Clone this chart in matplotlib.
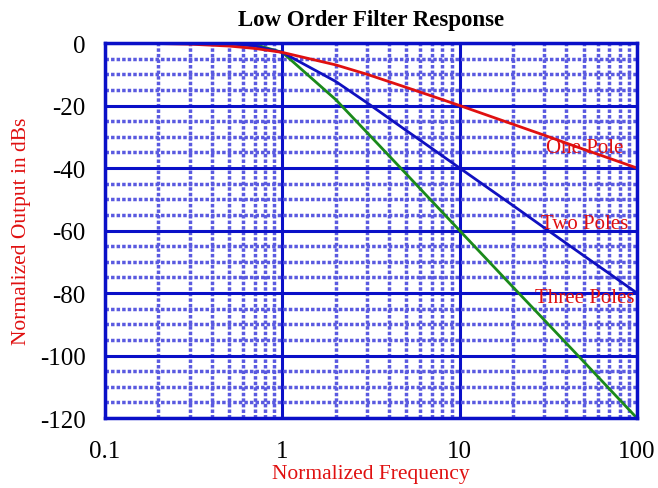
import matplotlib
matplotlib.use("Agg")
import matplotlib.pyplot as plt
from matplotlib.ticker import FixedLocator, NullFormatter

freq = [0.2, 0.3, 0.5, 0.7, 1, 2, 3, 5, 7, 10, 20, 30, 50, 70, 100]
one_pole = [-0.17, -0.37, -0.97, -1.74, -3.0, -7.0, -10.0, -14.2, -17.0, -20.0, -26.0, -29.5, -34.0, -36.9, -40.0]
two_poles = [-0.01, -0.03, -0.26, -0.97, -3.0, -12.3, -19.1, -28.0, -33.8, -40.0, -52.0, -59.1, -68.0, -73.8, -80.0]
three_poles = [0.0, 0.0, -0.07, -0.5, -3.0, -18.1, -28.6, -41.9, -50.7, -60.0, -78.1, -88.6, -101.9, -110.7, -120.0]

x_ticks = [0.1, 1, 10, 100]
x_labels = ["0.1", "1", "10", "100"]
y_ticks = [0, -20, -40, -60, -80, -100, -120]
y_labels = ["0", "-20", "-40", "-60", "-80", "-100", "-120"]

curve_labels = ["One Pole", "Two Poles", "Three Poles"]
label_pos_x = [51, 51, 51]
label_pos_y = [-33.3, -57.6, -81.3]

plt.rcParams['font.family'] = ['Liberation Serif', 'DejaVu Serif']

fig = plt.figure(figsize=(6.58, 4.89), dpi=100)
ax = fig.add_axes([0.1596, 0.143, 0.8084, 0.767])
ax.set_xscale('log')
ax.set_xlim(0.1, 100)
ax.set_ylim(-120, 0)

major_c = '#0a10c8'
minor_c = '#5a5ae0'
ax.xaxis.set_major_locator(FixedLocator(x_ticks))
ax.set_xticklabels(x_labels)
minx = [m * d for d in [0.1, 1, 10] for m in range(2, 10)]
ax.xaxis.set_minor_locator(FixedLocator(minx))
ax.xaxis.set_minor_formatter(NullFormatter())
ax.yaxis.set_major_locator(FixedLocator(y_ticks))
ax.set_yticklabels(y_labels)
miny = [v for v in range(-115, 0, 5) if v % 20 != 0]
ax.yaxis.set_minor_locator(FixedLocator(miny))

ax.grid(True, which='major', color=major_c, lw=2.2)
ax.grid(True, which='minor', color=minor_c, lw=2.5, ls=(0, (1, 0.6)))
ax.tick_params(which='both', length=0, labelsize=18)
ax.tick_params(axis='x', pad=16)
ax.tick_params(axis='y', pad=14)
for s in ax.spines.values():
    s.set_color(major_c)
    s.set_linewidth(2.5)

ax.plot(freq, three_poles, color='#1a8a1a', lw=2)
ax.plot(freq, two_poles, color='#1010c0', lw=2)
ax.plot(freq, one_pole, color='#e01010', lw=2)

for t, xx, yy in zip(curve_labels, label_pos_x, label_pos_y):
    ax.text(xx, yy, t, color='#e01010', fontsize=15, ha='center', va='center')

ax.set_title("Low Order Filter Response", fontsize=16.5, fontweight='bold', pad=13)
ax.set_xlabel("Normalized Frequency", color='#e01010', fontsize=15.5, labelpad=1)
ax.set_ylabel("Normalized Output in dBs", color='#e01010', fontsize=15.5, labelpad=6)

fig.savefig("out.png", dpi=100)
